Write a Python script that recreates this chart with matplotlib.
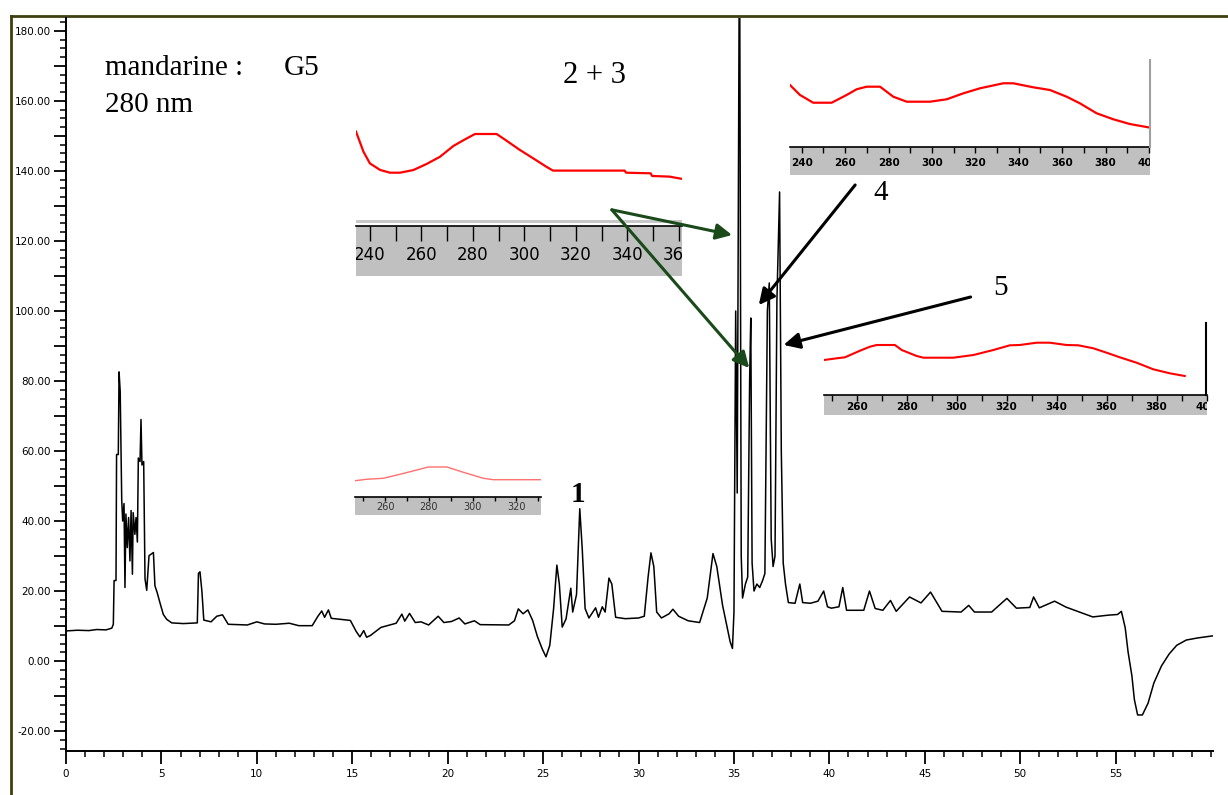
import matplotlib
matplotlib.use("Agg")
import matplotlib.pyplot as plt
from matplotlib.ticker import MultipleLocator, FixedLocator, FuncFormatter
from matplotlib.patches import Rectangle
from matplotlib.lines import Line2D

W, H = 1228, 795

# chromatogram at 280 nm (time in min, absorbance in mAU)
time = [0.0, 0.6, 1.2, 1.6, 2.1, 2.4, 2.48, 2.52, 2.62, 2.65, 2.74, 2.78, 2.84, 2.92, 2.97,
        3.04, 3.09, 3.14, 3.21, 3.28, 3.35, 3.41, 3.48, 3.52, 3.61, 3.67, 3.74, 3.79, 3.88,
        3.93, 3.98, 4.07, 4.14, 4.23, 4.28, 4.35, 4.58, 4.66, 4.78, 4.92, 5.1, 5.28, 5.54,
        6.15, 6.88, 6.94, 7.02, 7.12, 7.22, 7.6, 7.9, 8.2, 8.5, 9.0, 9.5, 10.0, 10.4, 11.0,
        11.7, 12.2, 12.9, 13.2, 13.4, 13.55, 13.75, 13.9, 14.4, 14.9, 15.2, 15.4, 15.6, 15.75,
        15.95, 16.5, 17.3, 17.6, 17.75, 18.0, 18.3, 18.6, 19.0, 19.5, 19.8, 20.2, 20.6, 20.9,
        21.4, 21.7, 23.2, 23.5, 23.7, 23.95, 24.2, 24.45, 24.7, 24.95, 25.15, 25.35, 25.55,
        25.72, 25.85, 26.0, 26.2, 26.45, 26.55, 26.75, 26.92, 27.05, 27.2, 27.4, 27.75, 27.9,
        28.1, 28.25, 28.45, 28.6, 28.8, 29.3, 30.0, 30.3, 30.5, 30.65, 30.8, 30.95, 31.2,
        31.6, 31.8, 32.1, 32.6, 33.2, 33.6, 33.9, 34.1, 34.4, 34.8, 34.92, 35.0, 35.09, 35.17,
        35.29, 35.38, 35.45, 35.6, 35.72, 35.82, 35.88, 35.95, 36.05, 36.2, 36.35, 36.5,
        36.62, 36.75, 36.85, 36.95, 37.05, 37.15, 37.25, 37.39, 37.48, 37.58, 37.7, 37.85,
        38.2, 38.45, 38.6, 39.0, 39.4, 39.7, 39.9, 40.1, 40.5, 40.7, 40.9, 41.8, 42.1, 42.4,
        42.8, 43.2, 43.5, 44.2, 44.8, 45.3, 45.9, 46.9, 47.3, 47.6, 48.5, 49.3, 49.8, 50.5,
        50.7, 51.0, 51.8, 52.4, 53.1, 53.8, 54.6, 55.1, 55.3, 55.5, 55.65, 55.85, 55.98,
        56.15, 56.4, 56.7, 57.0, 57.4, 57.8, 58.2, 58.7, 59.3, 60.1]
signal = [8.6, 8.8, 8.7, 9.0, 8.9, 9.4, 10.5, 23, 23, 59, 59, 82.6, 77, 46, 40,
          45, 21, 42, 32.4, 41, 28.6, 43, 24.8, 42.4, 36.2, 41, 34, 58, 57,
          69, 56, 57, 23.5, 20.2, 24.4, 30.1, 31, 21.5, 19.5, 16.7, 13.3, 11.9, 10.9,
          10.7, 10.9, 25, 25.5, 20, 11.7, 11.2, 12.8, 13.2, 10.5, 10.4, 10.3, 11.2, 10.6, 10.5,
          10.8, 10.1, 10.1, 12.8, 14.3, 12.5, 14.6, 12.2, 11.9, 11.6, 8.5, 6.9, 8.7, 6.8,
          7.3, 9.6, 10.8, 13.4, 11.4, 13.6, 11.0, 11.2, 10.3, 12.8, 11.0, 11.3, 12.3, 10.6,
          11.5, 10.4, 10.3, 11.5, 14.9, 13.5, 14.6, 11.6, 7.0, 3.5, 1.2, 4.5, 15,
          27.4, 22, 9.7, 12, 20.8, 14, 19, 43.5, 32, 15, 12.3, 15.2, 12.5,
          15.5, 14, 23.7, 22, 12.5, 12.1, 12.3, 12.8, 24, 30.9, 27, 14, 12.3,
          13.5, 14.8, 12.8, 11.5, 11.0, 18, 30.7, 27, 16, 5.5, 3.6, 14, 100, 48,
          215, 30, 18, 22, 24, 80, 98, 28, 20, 22, 21, 23,
          25, 100, 108, 35, 27, 30, 103, 134, 60, 28, 22, 16.7,
          16.5, 22, 16.7, 16.5, 17.1, 20, 15.5, 15.1, 15.5, 21, 14.5, 14.5, 20, 15,
          14.5, 17.3, 14.2, 18.3, 16.6, 19.7, 14.2, 14, 15.9, 14, 14, 17.9, 15.1, 15.3,
          18.3, 15.2, 17.1, 15.4, 14, 12.6, 13.1, 13.3, 14.2, 9.5, 2.6, -4.2, -11,
          -15.4, -15.4, -12, -6.3, -1.4, 2, 4.5, 6, 6.6, 7.2]

# UV spectra of the peaks (wavelength nm, relative absorbance)
specA_nm = [234.6, 237.5, 240, 244, 247.8, 251.7, 256.9, 262, 267.2, 272.4, 276.9, 280.8,
            289.2, 293, 298.2, 303.4, 308.5, 311.1, 338.9, 339.5, 349, 349.6, 356.3, 360.8]
specA_val = [0.89, 0.555, 0.36, 0.25, 0.205, 0.205, 0.25, 0.35, 0.47, 0.65, 0.76, 0.85,
             0.85, 0.74, 0.585, 0.445, 0.305, 0.24, 0.24, 0.205, 0.195, 0.15, 0.14, 0.105]

specB_nm = [234.6, 239.2, 245.3, 253.8, 260.7, 265.3, 269.9, 276.1, 282.2, 288.4, 299.1, 306.8,
            314.5, 322.1, 332.9, 337.5, 346.7, 354.4, 362.1, 368.2, 375.9, 383.6, 391.2, 399.7]
specB_val = [0.833, 0.667, 0.538, 0.538, 0.667, 0.762, 0.805, 0.805, 0.638, 0.555, 0.555, 0.595,
             0.695, 0.778, 0.862, 0.862, 0.795, 0.75, 0.638, 0.528, 0.362, 0.262, 0.183, 0.128]

specC_nm = [246.9, 252, 255.3, 261.3, 265.3, 268, 275.3, 278, 284, 286.7, 298.7, 306.7, 314.7,
            321.3, 325.3, 332, 337.3, 344, 348.7, 354.7, 360, 365.3, 372, 378.7, 385.3, 391.3]
specC_val = [0.5, 0.534, 0.554, 0.686, 0.766, 0.8, 0.8, 0.7, 0.58, 0.546, 0.546, 0.6, 0.7,
             0.794, 0.8, 0.846, 0.846, 0.8, 0.794, 0.734, 0.646, 0.554, 0.446, 0.314, 0.234, 0.18]

specD_nm = [246.3, 251.6, 259.2, 266.8, 274.5, 279.8, 288.2, 295.8, 304.9, 309.5, 331]
specD_val = [0.31, 0.357, 0.39, 0.523, 0.667, 0.767, 0.767, 0.59, 0.39, 0.343, 0.343]

serif = ["Liberation Serif", "DejaVu Serif"]

fig = plt.figure(figsize=(W / 100, H / 100), dpi=100)


def px_rect(x0, y0, x1, y1):
    return [x0 / W, 1 - y1 / H, (x1 - x0) / W, (y1 - y0) / H]


# main chromatogram
ax = fig.add_axes(px_rect(66, 18, 1213, 751))
ax.set_zorder(5)
ax.patch.set_visible(False)
ax.plot(time, signal, color="black", lw=1.1)
ax.set_xlim(0, 60.1)
ax.set_ylim(-25.7, 183.7)
ax.spines["top"].set_visible(False)
ax.spines["right"].set_visible(False)
ax.spines["left"].set_linewidth(1.4)
ax.spines["bottom"].set_linewidth(1.4)
ax.xaxis.set_major_locator(FixedLocator(range(0, 56, 5)))
ax.xaxis.set_minor_locator(MultipleLocator(1))
ax.yaxis.set_major_locator(MultipleLocator(10))
ax.yaxis.set_minor_locator(MultipleLocator(2.5))
ax.yaxis.set_major_formatter(FuncFormatter(lambda v, p: f"{v:.2f}" if round(v) % 20 == 0 else ""))
ax.tick_params(axis="both", which="major", length=9, width=1.3, labelsize=7.5, pad=2)
ax.tick_params(axis="both", which="minor", length=4, width=1.1)
ax.tick_params(axis="x", pad=4)

# spectrum insets
def spectrum_inset(curve_box, bar_box, nm, val, xlim, ticks, labels, color, lw,
                   fs, family, tick_len, label_color="black", weight="normal"):
    ca = fig.add_axes(px_rect(*curve_box))
    ca.plot(nm, val, color=color, lw=lw)
    ca.set_xlim(xlim)
    ca.set_ylim(0, 1)
    ca.axis("off")
    ba = fig.add_axes(px_rect(*bar_box))
    ba.set_facecolor("#c0c0c0")
    ba.set_xlim(xlim)
    ba.set_ylim(0, 1)
    for s in ["left", "right", "bottom"]:
        ba.spines[s].set_visible(False)
    ba.spines["top"].set_linewidth(1.2)
    ba.set_yticks([])
    ba.xaxis.tick_top()
    ba.set_xticks(ticks)
    ba.tick_params(axis="x", direction="in", length=tick_len, width=1, labeltop=False)
    for x in labels:
        ba.text(x, 0.42, str(x), ha="center", va="center", fontsize=fs, family=family,
                color=label_color, weight=weight, clip_on=True)
    return ca, ba


narrow = ["Liberation Sans Narrow", "DejaVu Sans"]
spectrum_inset((356, 125, 682, 185), (356, 226, 682, 276), specA_nm, specA_val,
               (234.6, 361.2), range(240, 361, 10), range(240, 361, 20),
               "red", 1.6, 12, narrow, 11)
spectrum_inset((790, 75, 1150, 135), (790, 147, 1150, 175), specB_nm, specB_val,
               (234.6, 400.5), range(240, 401, 10), range(240, 401, 20),
               "red", 1.6, 7.5, narrow, 4, weight="bold")
spectrum_inset((824, 335, 1207, 385), (824, 395, 1207, 415), specC_nm, specC_val,
               (246.9, 400.2), range(250, 401, 10), range(260, 401, 20),
               "red", 1.5, 7.5, narrow, 4, weight="bold")
spectrum_inset((355, 460, 541, 490), (355, 497, 541, 515), specD_nm, specD_val,
               (246.3, 331.2), range(250, 331, 10), range(260, 321, 20),
               "#ff7070", 1.0, 7, ["DejaVu Sans"], 3, label_color="#333333")

# decorations around insets
fig.add_artist(Rectangle((356 / W, 1 - 223 / H), 326 / W, 3 / H,
                         transform=fig.transFigure, color="#c8c8c8", lw=0))
fig.add_artist(Line2D([1150 / W, 1150 / W], [1 - 147 / H, 1 - 60 / H],
                      transform=fig.transFigure, color="#a0a0a0", lw=1.5))
fig.add_artist(Line2D([1206 / W, 1206 / W], [1 - 395 / H, 1 - 323 / H],
                      transform=fig.transFigure, color="black", lw=1.5))

# outer frame
frame_col = "#3f3f10"
fig.add_artist(Line2D([11 / W, 11 / W], [0, 1 - 16 / H], transform=fig.transFigure,
                      color=frame_col, lw=2))
fig.add_artist(Line2D([11 / W, 1], [1 - 16 / H, 1 - 16 / H], transform=fig.transFigure,
                      color=frame_col, lw=2))

# annotations
ax.text(2.04, 169.4, "mandarine :", fontsize=21, family=serif, va="center")
ax.text(11.4, 169.4, "G5", fontsize=21, family=serif, va="center")
ax.text(2.04, 158.9, "280 nm", fontsize=21, family=serif, va="center")
ax.text(27.7, 167.4, "2 + 3", fontsize=22, family=serif, ha="center", va="center")
ax.text(42.7, 133.7, "4", fontsize=21, family=serif, ha="center", va="center")
ax.text(48.95, 106.6, "5", fontsize=21, family=serif, ha="center", va="center")
ax.text(26.83, 47.7, "1", fontsize=21, family=serif, ha="center", va="center",
        weight="bold")

green = "#1a4a1a"
arrow_kw = dict(arrowstyle="-|>", lw=2.2, mutation_scale=24, shrinkA=0, shrinkB=0)
ax.annotate("", xy=(34.9, 121.7), xytext=(28.6, 128.9),
            arrowprops=dict(color=green, **arrow_kw))
ax.annotate("", xy=(35.8, 83.7), xytext=(28.6, 128.9),
            arrowprops=dict(color=green, **arrow_kw))
ax.annotate("", xy=(36.3, 101.7), xytext=(41.35, 136),
            arrowprops=dict(color="black", **arrow_kw))
ax.annotate("", xy=(37.6, 90.3), xytext=(47.4, 104),
            arrowprops=dict(color="black", **arrow_kw))

fig.savefig("out.png", dpi=100)
